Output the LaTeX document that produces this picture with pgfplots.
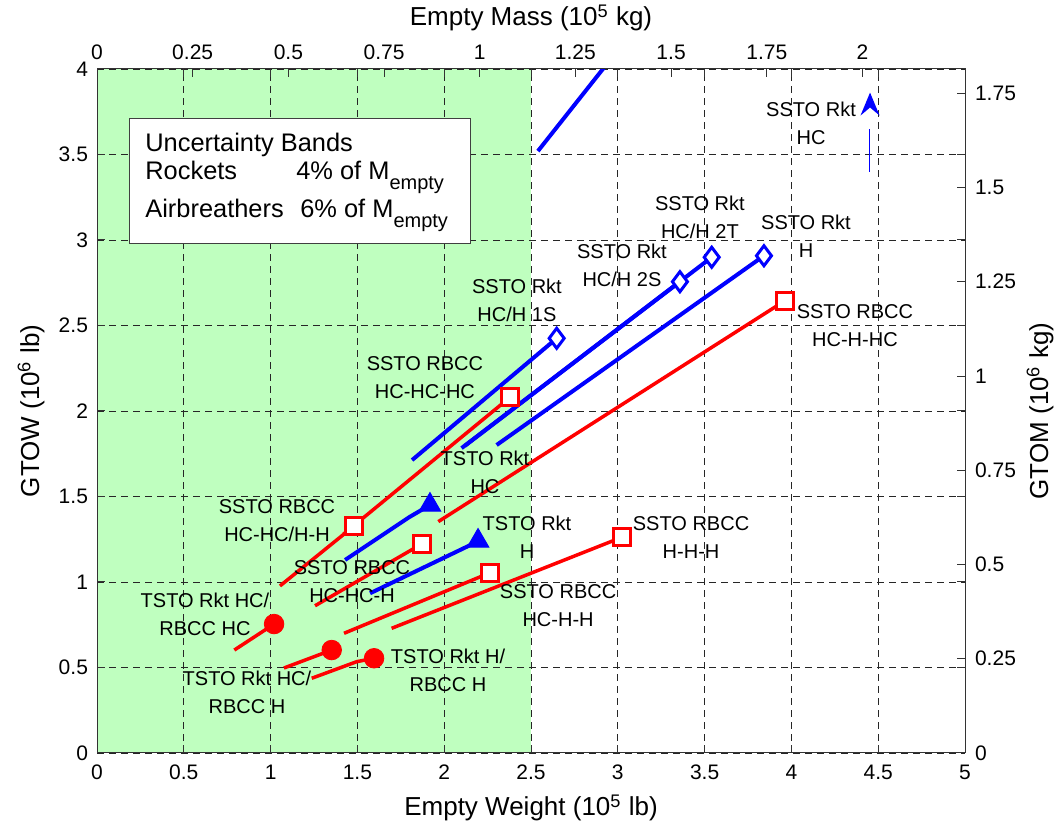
\documentclass[border=0pt]{standalone}
\usepackage{fontspec}
\setmainfont{Liberation Sans}
\usepackage{pgfplots}
\pgfplotsset{compat=1.18}
\definecolor{bandgreen}{RGB}{191,255,191}
\pgfdeclareplotmark{arrowup}{%
  \pgfpathmoveto{\pgfpoint{0pt}{\pgfplotmarksize}}%
  \pgfpathlineto{\pgfpoint{0.83\pgfplotmarksize}{-\pgfplotmarksize}}%
  \pgfpathlineto{\pgfpoint{0pt}{-0.3\pgfplotmarksize}}%
  \pgfpathlineto{\pgfpoint{-0.83\pgfplotmarksize}{-\pgfplotmarksize}}%
  \pgfpathclose
  \pgfusepathqfill}
\pgfplotsset{
  rkt/.style={blue, line width=2pt, no marks},
  air/.style={red, line width=1.75pt, no marks},
}
\tikzset{
  lbl/.style={font=\fontsize{10}{14}\selectfont, align=center, inner sep=0pt, anchor=center},
  boxt/.style={font=\fontsize{12.7}{15}\selectfont, inner sep=0pt, anchor=base west},
}
\newcommand{\Mempty}{M\raisebox{-5pt}{\fontsize{10}{12}\selectfont empty}}
\begin{document}
\begin{tikzpicture}
\begin{axis}[
  set layers,
  width=434pt, height=342pt, scale only axis,
  xmin=0, xmax=5, ymin=0, ymax=4,
  xtick={0,0.5,...,5}, ytick={0,0.5,...,4},
  grid=major,
  major grid style={black!85, line width=0.4pt, dash pattern=on 3.5pt off 2.5pt},
  tick align=inside, major tick length=4pt,
  axis line style={black!80, line width=0.5pt},
  tick style={black!80, line width=0.5pt},
  ticklabel style={font=\fontsize{10.5}{12}\selectfont},
  /pgf/number format/assume math mode=true,
  xlabel={Empty Weight (10\textsuperscript{5} lb)},
  ylabel={GTOW (10\textsuperscript{6} lb)},
  label style={font=\fontsize{13}{15}\selectfont},
  xlabel style={at={([yshift=-27.5pt]axis description cs:0.5,0)}, anchor=center},
  ylabel style={at={([xshift=-33pt]axis description cs:0,0.5)}, anchor=center},
  xticklabel style={yshift=-2.25pt}, yticklabel style={xshift=-1pt},
]
\addplot[draw=none, fill=bandgreen, on layer=axis background, forget plot] coordinates {(0,4) (2.5,4)} \closedcycle;

% rocket uncertainty lines
\addplot[rkt] coordinates {(2.54,3.52) (3.07,4.2)};
\addplot[blue, line width=0.6pt, no marks] coordinates {(4.45,3.40) (4.45,3.65)};
\addplot[rkt] coordinates {(1.815,1.713) (2.648,2.425)};
\addplot[rkt] coordinates {(2.10,1.783) (3.358,2.756)};
\addplot[rkt] coordinates {(2.12,1.797) (3.541,2.899)};
\addplot[rkt] coordinates {(2.302,1.801) (3.842,2.908)};
\addplot[rkt] coordinates {(1.429,1.129) (1.80,1.38) (1.918,1.450)};
\addplot[rkt] coordinates {(1.573,0.934) (2.13,1.206) (2.195,1.240)};

% airbreather uncertainty lines
\addplot[air] coordinates {(1.054,0.977) (1.480,1.327)};
\addplot[air] coordinates {(1.42,1.28) (2.379,2.080)};
\addplot[air] coordinates {(1.256,0.861) (1.870,1.222)};
\addplot[air] coordinates {(1.966,1.353) (3.963,2.645)};
\addplot[air] coordinates {(1.697,0.729) (3.022,1.261)};
\addplot[air] coordinates {(1.423,0.700) (2.264,1.054)};
\addplot[air] coordinates {(0.791,0.602) (1.020,0.754)};
\addplot[air] coordinates {(1.077,0.497) (1.352,0.602)};
\addplot[air] coordinates {(1.237,0.437) (1.496,0.534) (1.596,0.554)};

% markers
\addplot[only marks, mark=diamond*, mark size=5pt, draw=blue, fill=white, line width=1.5pt]
  coordinates {(2.648,2.425) (3.358,2.756) (3.541,2.899) (3.842,2.908)};
\addplot[only marks, mark=triangle*, mark size=6.2pt, draw=blue, fill=blue, line width=0.5pt]
  coordinates {(1.918,1.450) (2.195,1.240)};
\addplot[only marks, mark=arrowup, mark size=5.75pt, blue] coordinates {(4.453,3.795)};
\addplot[only marks, mark=square*, mark size=4.3pt, draw=red, fill=white, line width=1.5pt]
  coordinates {(1.480,1.327) (2.379,2.080) (1.870,1.222) (3.963,2.645) (3.022,1.261) (2.264,1.054)};
\addplot[only marks, mark=*, mark size=4.9pt, draw=red, fill=red, line width=0.4pt]
  coordinates {(1.020,0.754) (1.352,0.602) (1.596,0.554)};

% labels
\node[lbl] at (axis cs:4.113,3.684) {SSTO Rkt\\HC};
\node[lbl] at (axis cs:3.473,3.134) {SSTO Rkt\\HC/H 2T};
\node[lbl] at (axis cs:4.084,3.023) {SSTO Rkt\\H};
\node[lbl] at (axis cs:3.024,2.854) {SSTO Rkt\\HC/H 2S};
\node[lbl] at (axis cs:2.419,2.649) {SSTO Rkt\\HC/H 1S};
\node[lbl] at (axis cs:4.366,2.497) {SSTO RBCC\\HC-H-HC};
\node[lbl] at (axis cs:1.889,2.193) {SSTO RBCC\\HC-HC-HC};
\node[lbl] at (axis cs:2.235,1.643) {TSTO Rkt\\HC};
\node[lbl] at (axis cs:1.037,1.357) {SSTO RBCC\\HC-HC/H-H};
\node[lbl] at (axis cs:2.477,1.263) {TSTO Rkt\\H};
\node[lbl] at (axis cs:3.422,1.263) {SSTO RBCC\\H-H-H};
\node[lbl] at (axis cs:1.469,1.000) {SSTO RBCC\\HC-HC-H};
\node[lbl] at (axis cs:2.656,0.860) {SSTO RBCC\\HC-H-H};
\node[lbl] at (axis cs:0.622,0.813) {TSTO Rkt HC/\\RBCC HC};
\node[lbl] at (axis cs:2.022,0.485) {TSTO Rkt H/\\RBCC H};
\node[lbl] at (axis cs:0.864,0.357) {TSTO Rkt HC/\\RBCC H};

% uncertainty box
\draw[black!75, line width=0.5pt, fill=white] (axis cs:0.19,2.98) rectangle (axis cs:2.15,3.71);
\node[boxt] at (axis cs:0.2765,3.516) {Uncertainty Bands};
\node[boxt] at (axis cs:0.2765,3.351) {Rockets};
\node[boxt] at (axis cs:1.146,3.351) {4\% of \Mempty};
\node[boxt] at (axis cs:0.2765,3.129) {Airbreathers};
\node[boxt] at (axis cs:1.169,3.129) {6\% of \Mempty};
\end{axis}

\begin{axis}[
  width=434pt, height=342pt, scale only axis,
  xmin=0, xmax=2.26796, ymin=0, ymax=1.81437,
  axis x line*=top, axis y line*=right,
  xtick={0,0.25,...,2}, ytick={0,0.25,...,1.75},
  tick align=inside, major tick length=4pt,
  axis line style={-, black!80, line width=0.5pt},
  tick style={black!80, line width=0.5pt},
  ticklabel style={font=\fontsize{10.5}{12}\selectfont},
  /pgf/number format/assume math mode=true,
  xlabel={Empty Mass (10\textsuperscript{5} kg)},
  ylabel={GTOM (10\textsuperscript{6} kg)},
  label style={font=\fontsize{13}{15}\selectfont},
  xlabel style={at={([yshift=25.5pt]axis description cs:0.5,1)}, anchor=center},
  ylabel style={at={([xshift=37.5pt]axis description cs:1,0.5)}, anchor=center},
  xticklabel style={yshift=1.25pt}, yticklabel style={xshift=1.5pt},
]
\end{axis}
\pgfresetboundingbox
\path (-48.5pt,-38pt) rectangle (481.5pt,376.5pt);
\end{tikzpicture}
\end{document}
